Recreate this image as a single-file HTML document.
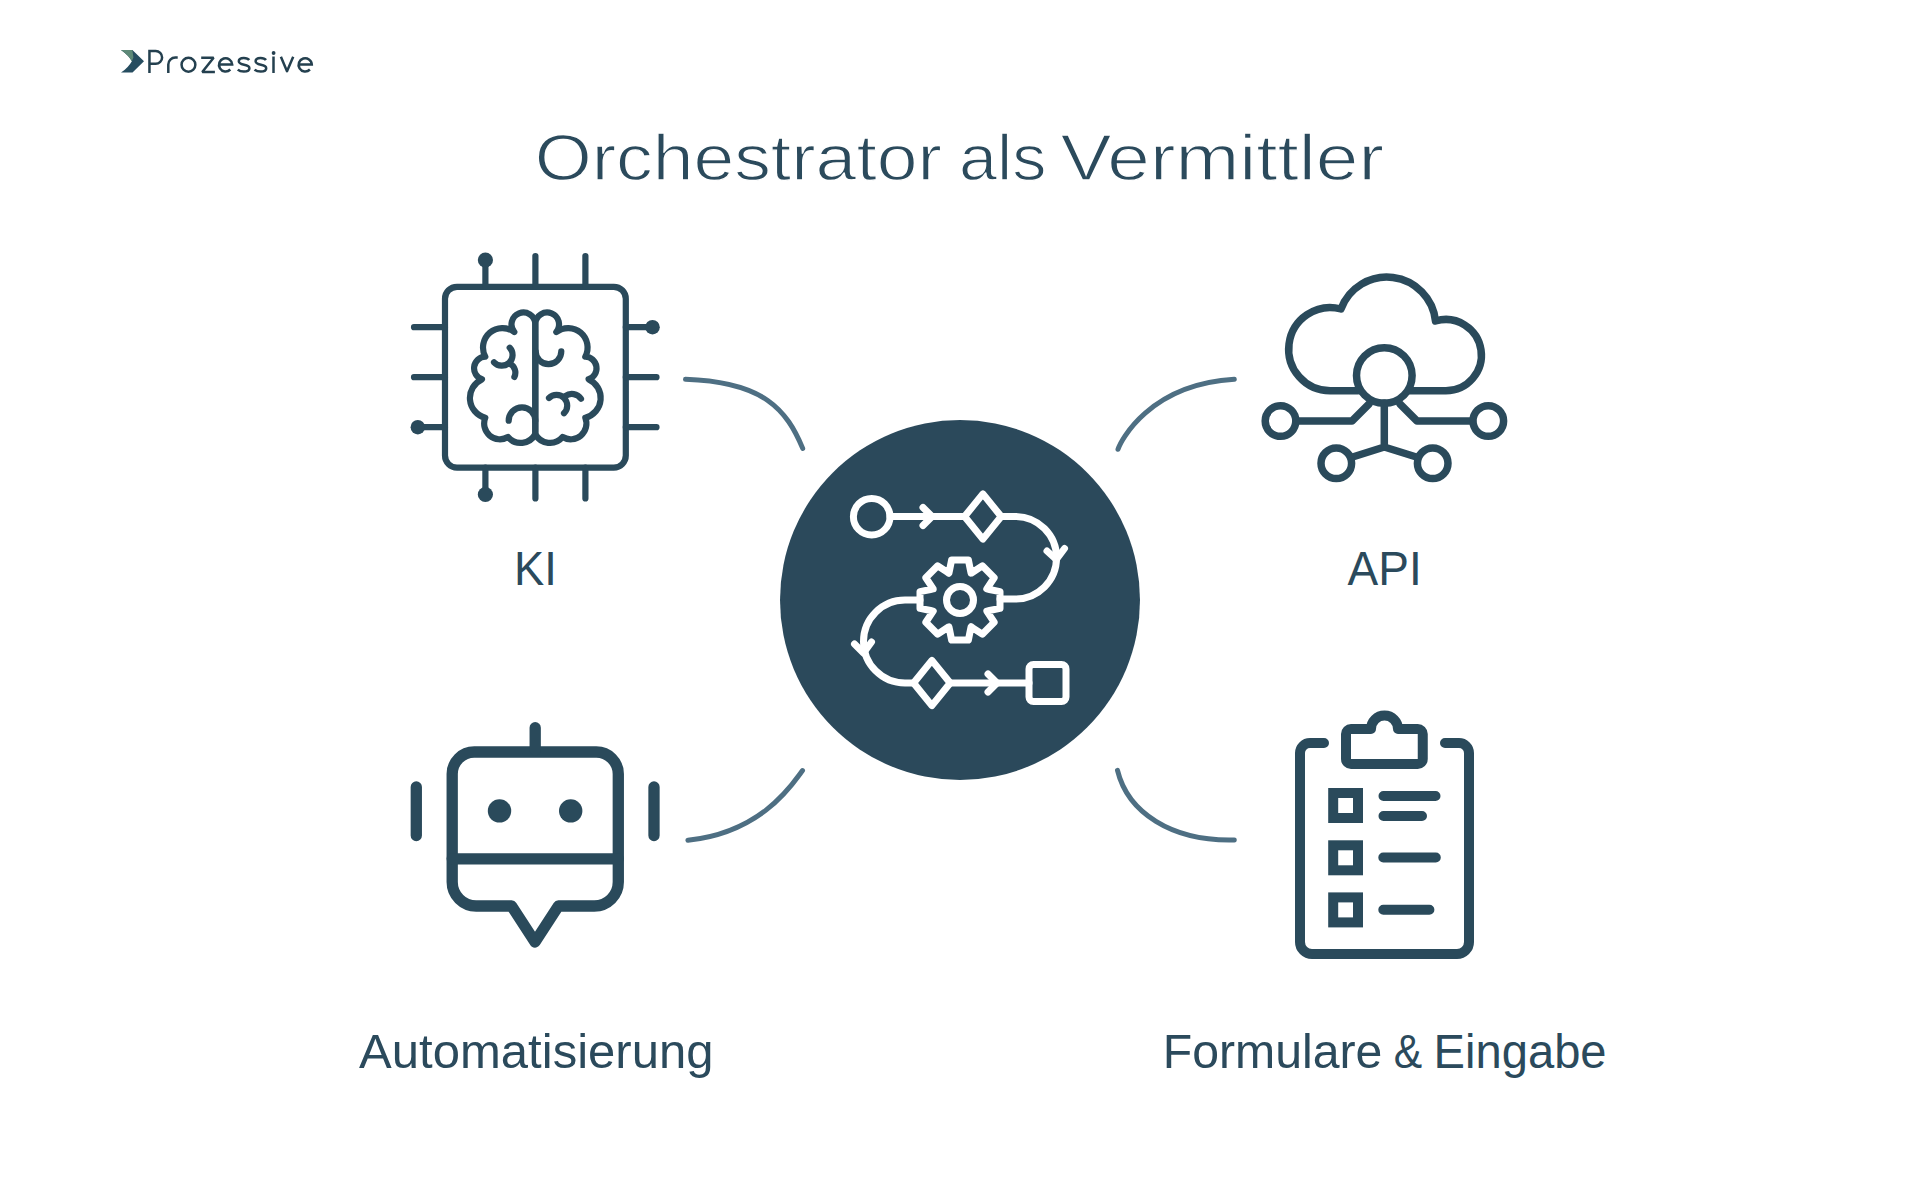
<!DOCTYPE html>
<html><head><meta charset="utf-8">
<style>
html,body{margin:0;padding:0;background:#fff;width:1920px;height:1200px;overflow:hidden}
svg{position:absolute;left:0;top:0}
text{font-family:"Liberation Sans",sans-serif}
</style></head>
<body>
<svg width="1920" height="1200" viewBox="0 0 1920 1200">
<!-- logo -->
<g id="logo">
<path d="M121 50 H132.4 L144 61.25 L132.5 72.6 H121 Q128 68 131.9 61.25 Q128.75 55.5 121 50 Z" fill="#264d60"/>
<path d="M121 50 H132.4 L133.4 57.5 L131.9 61.25 Q128.75 55.5 121 50 Z" fill="#5d8977"/>
<g fill="none" stroke="#24404f" stroke-width="2.5" stroke-linejoin="miter">
<path d="M149.45 72.9 V51 H155.7 A6.4 6.4 0 0 1 155.7 63.8 H149.45"/>
<path d="M168.3 72.9 V64.5 A7 7 0 0 1 175.3 57.5 H177.7"/>
<circle cx="188.45" cy="64.75" r="6.9"/>
<path d="M201.2 57.7 H213.6 L202.3 72 H214.9" stroke-linejoin="bevel"/>
<path id="lg-e" d="M219 64.5 H232.2 A6.6 6.6 0 1 0 230.3 69.5"/>
<path id="lg-s" d="M249.2 60 C248 58.3 246 57.9 243.8 57.9 C240.7 57.9 238.8 59.3 238.8 61.3 C238.8 66 249.4 63.5 249.4 68.2 C249.4 70.3 247.3 71.6 243.9 71.6 C241.2 71.6 239 70.8 237.8 69.6"/>
<use href="#lg-s" transform="translate(16.8 0)"/>
<path d="M273.5 73 V56.5"/>
<path d="M280.9 56.8 L287 71.2 L293.2 56.8" stroke-linejoin="round"/>
<use href="#lg-e" transform="translate(79.6 0)"/>
</g>
<circle cx="273.6" cy="53" r="1.9" fill="#24404f"/>
</g>
<!-- title -->
<g id="title" font-size="65" fill="#2b4a5c" stroke="#fff" stroke-width="1.3">
<text id="t1" x="534.66" y="180" textLength="407.25" lengthAdjust="spacingAndGlyphs">Orchestrator</text>
<text id="t2" x="959.13" y="180" textLength="87.30" lengthAdjust="spacingAndGlyphs">als</text>
<text id="t3" x="1060.50" y="180" textLength="323.49" lengthAdjust="spacingAndGlyphs">Vermittler</text>
</g>

<!-- connectors -->
<g fill="none" stroke="#4e6f83" stroke-width="5" stroke-linecap="round">
<path d="M685.5 379.3 C764.4 382 786.7 410 802.7 448.4"/>
<path d="M1234.3 379.2 C1149.2 384.3 1120.6 440.9 1118 449.3"/>
<path d="M687.9 840.25 C763.2 832.3 793.7 782.2 802.5 770.6"/>
<path d="M1117.5 770.4 C1127.7 812.1 1170.9 841.5 1234.3 839.9"/>
</g>

<!-- center circle -->
<circle cx="960" cy="600" r="180" fill="#2b495b"/>
<g fill="none" stroke="#fff" stroke-width="7" stroke-linecap="round" stroke-linejoin="round">
<circle cx="871.7" cy="516.7" r="18.3"/>
<path d="M890 516.5 H964.6"/>
<path d="M923 507.5 L932 516.5 L923 525.5"/>
<path d="M982.9 493.9 L1001.2 516.5 L982.9 539.1 L964.6 516.5 Z"/>
<path d="M1001.2 516.5 H1015.3 A41.25 41.25 0 0 1 1015.3 599 H1000"/>
<path d="M1047 551 L1056.3 559.5 L1064.5 548.5"/>
<path d="M920 600 H905 A41.5 41.5 0 0 0 905 683 H913.6"/>
<path d="M854.5 644 L863.5 653 L871.5 642"/>
<path d="M931.9 660.4 L950.2 683 L931.9 705.6 L913.6 683 Z"/>
<path d="M950.2 683 H1029"/>
<path d="M988 674 L997 683 L988 692"/>
<rect x="1029" y="664.5" width="37" height="37" rx="4.5"/>
<circle cx="960" cy="600" r="13.5"/>
<path id="gear" d="M949.5 570.5 L951.6 560.0 L968.4 560.0 L970.5 570.5 L971.1 573.2 L973.4 571.7 L982.3 565.8 L994.2 577.7 L988.3 586.6 L986.8 588.9 L989.5 589.5 L1000.0 591.6 L1000.0 608.4 L989.5 610.5 L986.8 611.1 L988.3 613.4 L994.2 622.3 L982.3 634.2 L973.4 628.3 L971.1 626.8 L970.5 629.5 L968.4 640.0 L951.6 640.0 L949.5 629.5 L948.9 626.8 L946.6 628.3 L937.7 634.2 L925.8 622.3 L931.7 613.4 L933.2 611.1 L930.5 610.5 L920.0 608.4 L920.0 591.6 L930.5 589.5 L933.2 588.9 L931.7 586.6 L925.8 577.7 L937.7 565.8 L946.6 571.7 L948.9 573.2 Z"/>
</g>

<!-- KI chip icon -->
<g fill="none" stroke="#2a4a5b" stroke-width="6.2" stroke-linecap="round" stroke-linejoin="round">
<rect x="445" y="286.8" width="180.8" height="180.8" rx="12"/>
<path d="M485.4 286.8V262 M535.4 286.8V256 M585.4 286.8V256"/>
<path d="M485.4 467.6V492 M535.4 467.6V498.5 M585.4 467.6V498.5"/>
<path d="M445 327.2H414 M445 377.2H414 M445 427.2H420"/>
<path d="M625.8 327.2H650 M625.8 377.2H656.5 M625.8 427.2H656.5"/>
</g>
<g fill="#2a4a5b">
<circle cx="485.4" cy="260" r="7.6"/>
<circle cx="485.4" cy="494.5" r="7.6"/>
<circle cx="417.8" cy="427.2" r="7.2"/>
<circle cx="652.5" cy="327.2" r="7.3"/>
</g>
<g fill="none" stroke="#2a4a5b" stroke-width="6.2" stroke-linecap="round" stroke-linejoin="round">
<path id="brainL" d="M535.3 323.6 A11.9 11.9 0 1 0 514.3 332 A19.5 19.5 0 0 0 485.3 356.7 A11.6 11.6 0 0 0 482 379.3 A20.4 20.4 0 0 0 485.3 417.7 A15.7 15.7 0 0 0 508 437 A16.5 16.5 0 0 0 535.3 434 Z"/>
<use href="#brainL" transform="translate(1070.6 0) scale(-1 1)"/>
<path d="M509.7 347.7 A10.7 10.7 0 1 1 494 362.3"/>
<path d="M510 363.8 A10 10 0 0 1 514.4 376.9"/>
<path d="M508.7 420.7 A13 13 0 0 1 535.3 420.7"/>
<path d="M561.3 351.3 A12.8 12.8 0 0 1 535.7 351.5"/>
<path d="M549 398 A10.7 10.7 0 0 1 564 413.3"/>
<path d="M565.3 396 A11.3 11.3 0 0 1 581 398.7"/>
</g>

<!-- API cloud icon -->
<g fill="none" stroke="#2a4a5b" stroke-width="7.5" stroke-linecap="round" stroke-linejoin="round">
<path d="M1358 390.8 H1330.6 A41.6 41.6 0 1 1 1341 309 A48.9 48.9 0 0 1 1435.5 321 A35.65 35.65 0 1 1 1445.85 390.8 H1410"/>
<circle cx="1384.3" cy="375.5" r="27.8"/>
<path d="M1296 421 H1352 L1369 404"/>
<path d="M1472.5 421 H1417 L1400 404"/>
<path d="M1384.3 403 V447 L1351 457.5 M1384.3 447 L1418 457.5"/>
<circle cx="1280.5" cy="421" r="15.3"/>
<circle cx="1488.3" cy="421" r="15.3"/>
<circle cx="1336.3" cy="463.3" r="15.3"/>
<circle cx="1432.7" cy="463.3" r="15.3"/>
</g>

<!-- robot icon -->
<g fill="none" stroke="#2a4a5b" stroke-width="11.3" stroke-linecap="round" stroke-linejoin="round">
<path d="M474.2 752 H596.3 A22 22 0 0 1 618.3 774 V882 A24 24 0 0 1 594.3 906 H558.4 L535 942 L511.6 906 H476.2 A24 24 0 0 1 452.2 882 V774 A22 22 0 0 1 474.2 752 Z"/>
<path d="M452.2 858.8 H618.3"/>
<path d="M535.2 750 V727.7"/>
<path d="M416.3 787 V835.5 M654 787 V835.5"/>
</g>
<g fill="#2a4a5b">
<circle cx="499.5" cy="810.9" r="11.7"/>
<circle cx="570.7" cy="810.9" r="11.7"/>
</g>

<!-- clipboard icon -->
<g fill="none" stroke="#2a4a5b" stroke-width="10" stroke-linecap="round" stroke-linejoin="round">
<path d="M1324 743 H1310 A10 10 0 0 0 1300 753 V942 A12 12 0 0 0 1312 954 H1457 A12 12 0 0 0 1469 942 V753 A10 10 0 0 0 1459 743 H1445"/>
<path d="M1371 729 A13.5 13.5 0 0 1 1398 729 H1417.75 A5 5 0 0 1 1422.75 734 V759 A5 5 0 0 1 1417.75 764 H1351 A5 5 0 0 1 1346 759 V734 A5 5 0 0 1 1351 729 Z"/>
<path d="M1383.5 796 H1435.5 M1383.5 816 H1422 M1383.3 857.5 H1435.8 M1383.3 909.7 H1429.4"/>
</g>
<g fill="none" stroke="#2a4a5b" stroke-width="10" stroke-linejoin="miter">
<rect x="1333.2" y="793" width="24.8" height="25"/>
<rect x="1333.2" y="845.3" width="24.8" height="25"/>
<rect x="1333.2" y="897.4" width="24.8" height="25"/>
</g>

<!-- labels -->
<g fill="#2b4a5c" font-size="48.5">
<text id="l1" x="514.09" y="584.8" textLength="42.82" lengthAdjust="spacingAndGlyphs">KI</text>
<text id="l2" x="1347.60" y="584.8" textLength="74.12" lengthAdjust="spacingAndGlyphs">API</text>
<text id="l3" x="359.10" y="1068.3" textLength="354.39" lengthAdjust="spacingAndGlyphs">Automatisierung</text>
<text id="l4" x="1162.80" y="1068.3" textLength="219.60" lengthAdjust="spacingAndGlyphs">Formulare</text>
<text id="l5" x="1393.75" y="1068.3" textLength="28.40" lengthAdjust="spacingAndGlyphs">&amp;</text>
<text id="l6" x="1433.57" y="1068.3" textLength="173.04" lengthAdjust="spacingAndGlyphs">Eingabe</text>
</g>
</svg>
</body></html>
